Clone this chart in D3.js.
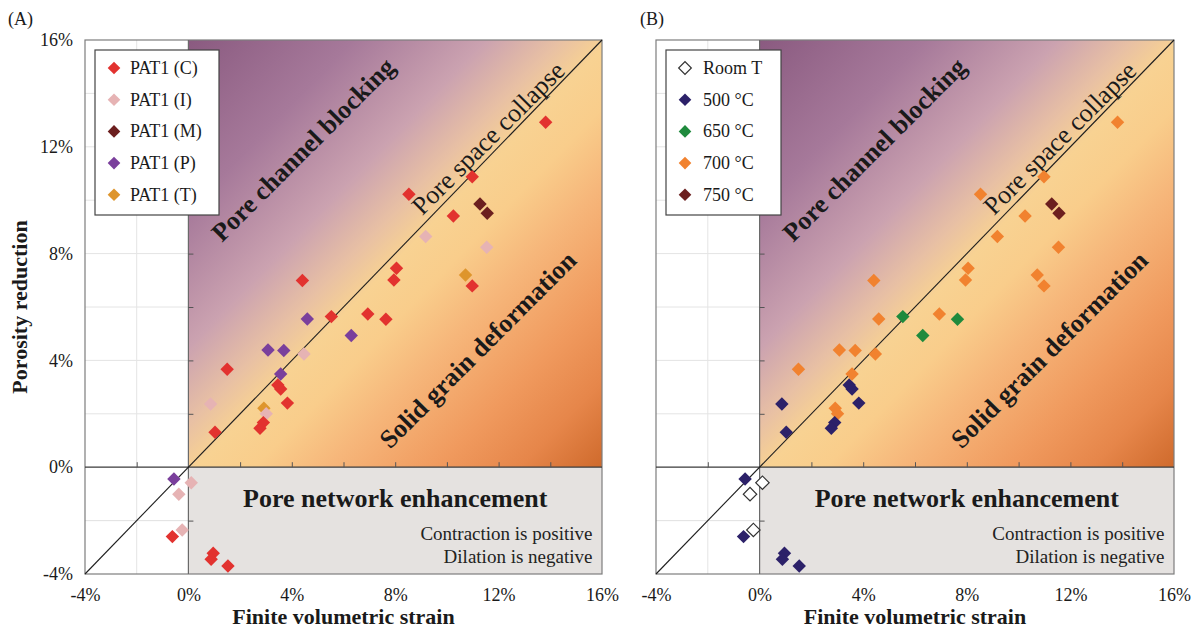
<!DOCTYPE html>
<html>
<head>
<meta charset="utf-8">
<script src="https://cdnjs.cloudflare.com/ajax/libs/d3/7.8.5/d3.min.js"></script>
<style>
  html, body { margin: 0; padding: 0; background: #fff; }
  svg { display: block; font-family: "Liberation Serif", "Times New Roman", serif; }
</style>
</head>
<body>
<svg id="chart" width="1201" height="632"></svg>
<script>
// Finite volumetric strain (%) and porosity reduction (%) for each test
const strain = [
  2.92, 10.72,
  0.11, -0.37, -0.24, 0.86, 3.01, 4.47, 9.18, 11.54,
  13.82, 10.98, 8.53, 10.25, 8.05, 7.95, 10.98, 4.41, 5.53, 6.94, 7.64, 1.50,
  3.46, 3.57, 3.83, 2.90, 2.77, 1.03, -0.62, 0.96, 0.88, 1.53,
  -0.56, 3.08, 3.69, 3.57, 4.60, 6.30,
  11.28, 11.56
];
const reduction = [
  2.21, 7.20,
  -0.58, -1.01, -2.35, 2.37, 2.00, 4.24, 8.64, 8.24,
  12.92, 10.88, 10.22, 9.41, 7.45, 7.01, 6.79, 6.99, 5.64, 5.74, 5.54, 3.67,
  3.08, 2.93, 2.40, 1.67, 1.46, 1.31, -2.60, -3.22, -3.45, -3.70,
  -0.44, 4.39, 4.37, 3.49, 5.55, 4.93,
  9.86, 9.51
];
// Sample of origin (panel A grouping)
const sample = [
  "T", "T",
  "I", "I", "I", "I", "I", "I", "I", "I",
  "C", "C", "C", "C", "C", "C", "C", "C", "C", "C", "C", "C",
  "C", "C", "C", "C", "C", "C", "C", "C", "C", "C",
  "P", "P", "P", "P", "P", "P",
  "M", "M"
];
// Test temperature (panel B grouping)
const temperature = [
  "700", "700",
  "RT", "RT", "RT", "500", "700", "700", "700", "700",
  "700", "700", "700", "700", "700", "700", "700", "700", "650", "700", "650", "700",
  "500", "500", "500", "500", "500", "500", "500", "500", "500", "500",
  "500", "700", "700", "700", "700", "650",
  "750", "750"
];

const sampleKeys   = ["C", "I", "M", "P", "T"];
const sampleLabels = ["PAT1 (C)", "PAT1 (I)", "PAT1 (M)", "PAT1 (P)", "PAT1 (T)"];
const sampleColors = ["#e2322f", "#e6b3b4", "#6c1f1f", "#7a3f9c", "#de952c"];

const tempKeys   = ["RT", "500", "650", "700", "750"];
const tempLabels = ["Room T", "500 °C", "650 °C", "700 °C", "750 °C"];
const tempColors = ["#ffffff", "#2c2169", "#1f8a3d", "#f1822f", "#6c1f1f"];

const tickLabels = [-4, 0, 4, 8, 12, 16];
const minorTicks = [-2, 2, 4, 6, 8, 10, 12, 14];
const domain = [-4, 16];

const svg = d3.select("#chart");
const defs = svg.append("defs");

// Diagonal colour field of the compaction quadrant
const grad = defs.append("linearGradient")
  .attr("id", "quadFill")
  .attr("x1", 0).attr("y1", 0).attr("x2", 1).attr("y2", 1);
[
  [0.00, "#8a5a80"], [0.20, "#a6799a"], [0.36, "#cba2b0"], [0.45, "#e8c0a4"],
  [0.51, "#f8d292"], [0.58, "#f9cd8b"], [0.67, "#f6b67a"], [0.80, "#f09a5e"],
  [0.90, "#e6864a"], [1.00, "#cf6a2c"]
].forEach(([o, c]) => grad.append("stop").attr("offset", o).attr("stop-color", c));

const panels = [
  { id: "A", label: "(A)", labelX: 8, range: [85, 602], keys: sampleKeys, labels: sampleLabels,
    colors: sampleColors, group: sample, yAxis: true, legend: { x: 95, w: 124, dx: 19, tx: 35 } },
  { id: "B", label: "(B)", labelX: 640, range: [656, 1174], keys: tempKeys, labels: tempLabels,
    colors: tempColors, group: temperature, yAxis: false, legend: { x: 666, w: 115, dx: 19, tx: 37 } }
];

const yRange = [574, 40];
const diamond = d3.symbol().type(d3.symbolSquare).size(90);

panels.forEach(p => {
  const x = d3.scaleLinear().domain(domain).range(p.range);
  const y = d3.scaleLinear().domain(domain).range(yRange);
  const g = svg.append("g");

  // plot background and light grid
  g.append("rect")
    .attr("x", x(-4)).attr("y", y(16))
    .attr("width", x(16) - x(-4)).attr("height", y(-4) - y(16))
    .attr("fill", "#fff");
  g.append("g").selectAll("line").data(minorTicks.concat([-2])).join("line")
    .attr("x1", x(-4)).attr("x2", x(16))
    .attr("y1", d => y(d)).attr("y2", d => y(d))
    .attr("stroke", "#e4e4e4").attr("stroke-width", 1);
  g.append("g").selectAll("line").data([-2]).join("line")
    .attr("x1", d => x(d)).attr("x2", d => x(d))
    .attr("y1", y(-4)).attr("y2", y(16))
    .attr("stroke", "#e4e4e4").attr("stroke-width", 1);

  // compaction quadrant and dilation band
  g.append("rect")
    .attr("x", x(0)).attr("y", y(16))
    .attr("width", x(16) - x(0)).attr("height", y(0) - y(16))
    .attr("fill", "url(#quadFill)");
  g.append("rect")
    .attr("x", x(0)).attr("y", y(0))
    .attr("width", x(16) - x(0)).attr("height", y(-4) - y(0))
    .attr("fill", "#e5e2e0");

  // frame
  g.append("rect")
    .attr("x", x(-4)).attr("y", y(16))
    .attr("width", x(16) - x(-4)).attr("height", y(-4) - y(16))
    .attr("fill", "none").attr("stroke", "#7d7d7d").attr("stroke-width", 1.2);

  // zero lines and 1:1 line
  g.append("line")
    .attr("x1", x(0)).attr("x2", x(0)).attr("y1", y(-4)).attr("y2", y(16))
    .attr("stroke", "#6a6a6a").attr("stroke-width", 1.2);
  g.append("line")
    .attr("x1", x(-4)).attr("x2", x(16)).attr("y1", y(0)).attr("y2", y(0))
    .attr("stroke", "#3a3a3a").attr("stroke-width", 1.3);
  g.append("line")
    .attr("x1", x(-4)).attr("x2", x(16)).attr("y1", y(-4)).attr("y2", y(16))
    .attr("stroke", "#1e1e1e").attr("stroke-width", 1.1);

  // ticks on the zero lines
  const tickStyle = sel => {
    sel.select(".domain").remove();
    sel.selectAll(".tick line").attr("stroke", "#555").attr("stroke-width", 1);
    sel.selectAll(".tick text").remove();
  };
  g.append("g").attr("transform", `translate(0,${y(0)})`)
    .call(d3.axisTop(x).tickValues(minorTicks).tickSize(5))
    .call(tickStyle);
  g.append("g").attr("transform", `translate(${x(0)},0)`)
    .call(d3.axisRight(y).tickValues(minorTicks).tickSize(5))
    .call(tickStyle);

  // tick labels
  const labelStyle = sel => {
    sel.attr("font-family", null).attr("font-size", null);
    sel.select(".domain").remove();
    sel.selectAll(".tick line").remove();
    sel.selectAll(".tick text").attr("font-size", 18).attr("fill", "#1a1a1a");
  };
  g.append("g").attr("transform", `translate(0,${y(-4)})`)
    .call(d3.axisBottom(x).tickValues(tickLabels).tickSize(0).tickPadding(14).tickFormat(d => d + "%"))
    .call(labelStyle);
  if (p.yAxis) {
    g.append("g").attr("transform", `translate(${x(-4)},0)`)
      .call(d3.axisLeft(y).tickValues(tickLabels).tickSize(0).tickPadding(12).tickFormat(d => d + "%"))
      .call(labelStyle);
    svg.append("text")
      .attr("transform", `translate(27,${(yRange[0] + yRange[1]) / 2}) rotate(-90)`)
      .attr("text-anchor", "middle").attr("font-weight", "bold").attr("font-size", 22)
      .attr("fill", "#1a1a1a")
      .text("Porosity reduction");
  }

  // axis title and panel tag
  svg.append("text")
    .attr("x", (p.range[0] + p.range[1]) / 2).attr("y", 624)
    .attr("text-anchor", "middle").attr("font-weight", "bold").attr("font-size", 22)
    .attr("fill", "#1a1a1a")
    .text("Finite volumetric strain");
  svg.append("text")
    .attr("x", p.labelX).attr("y", 25).attr("font-size", 18).attr("fill", "#1a1a1a")
    .text(p.label);

  // deformation regime labels
  const rot = -45;
  const regime = [
    { t: "Pore channel blocking", at: [1.3, 8.4], w: "bold" },
    { t: "Pore space collapse", at: [9.05, 9.4], w: "normal" },
    { t: "Solid grain deformation", at: [7.8, 0.65], w: "bold" }
  ];
  regime.forEach(r => {
    g.append("text")
      .attr("transform", `translate(${x(r.at[0])},${y(r.at[1])}) rotate(${rot})`)
      .attr("font-size", 26).attr("font-weight", r.w).attr("fill", "#1a1a1a")
      .text(r.t);
  });
  g.append("text")
    .attr("x", x(8)).attr("y", y(-1.49))
    .attr("text-anchor", "middle").attr("font-size", 26).attr("font-weight", "bold")
    .attr("fill", "#1a1a1a")
    .text("Pore network enhancement");
  g.append("text")
    .attr("x", x(15.63)).attr("y", y(-2.72))
    .attr("text-anchor", "end").attr("font-size", 19).attr("fill", "#222")
    .text("Contraction is positive");
  g.append("text")
    .attr("x", x(15.63)).attr("y", y(-3.57))
    .attr("text-anchor", "end").attr("font-size", 19).attr("fill", "#222")
    .text("Dilation is negative");

  // data points
  const color = d3.scaleOrdinal().domain(p.keys).range(p.colors);
  g.append("g").selectAll("path").data(strain.map((s, i) => i)).join("path")
    .attr("d", diamond)
    .attr("transform", i => `translate(${x(strain[i])},${y(reduction[i])}) rotate(45)`)
    .attr("fill", i => color(p.group[i]))
    .attr("stroke", i => p.group[i] === "RT" ? "#333" : "none")
    .attr("stroke-width", 1.2);

  // legend
  const L = p.legend;
  const lg = g.append("g");
  lg.append("rect")
    .attr("x", L.x).attr("y", 50).attr("width", L.w).attr("height", 165)
    .attr("fill", "#fff").attr("stroke", "#444").attr("stroke-width", 1.2);
  const rows = lg.selectAll("g.row").data(p.keys).join("g")
    .attr("class", "row")
    .attr("transform", (d, i) => `translate(${L.x},${68 + i * 31.7})`);
  rows.append("path")
    .attr("d", d3.symbol().type(d3.symbolSquare).size(80))
    .attr("transform", `translate(${L.dx},0) rotate(45)`)
    .attr("fill", d => color(d))
    .attr("stroke", d => d === "RT" ? "#333" : "none")
    .attr("stroke-width", 1.2);
  rows.append("text")
    .attr("x", L.tx).attr("y", 6)
    .attr("font-size", 18).attr("fill", "#1a1a1a")
    .text((d, i) => p.labels[i]);
});
</script>
</body>
</html>
